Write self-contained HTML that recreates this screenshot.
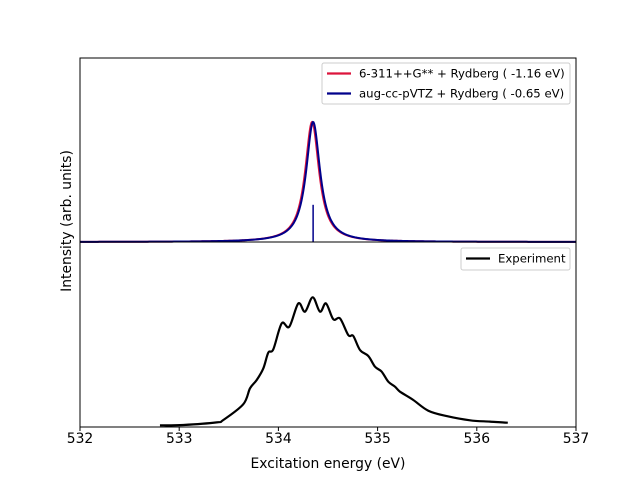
<!DOCTYPE html>
<html><head><meta charset="utf-8"><style>
body{margin:0;background:#fff;}
svg text{font-family:"DejaVu Sans","Liberation Sans",sans-serif;}
</style></head><body>
<svg id="chart" width="640" height="480" viewBox="0 0 640 480" xmlns="http://www.w3.org/2000/svg">
<rect width="640" height="480" fill="#fff"/>
<g id="topPanel"></g>
<g id="botPanel"></g>
<g id="axesGroup"></g>
</svg>
<script>
const xTicks=[532,533,534,535,536,537];
const stickEnergy=[534.35];
const stickIntensity=[0.31];
const redCenter=[534.34];
const blueCenter=[534.35];
const peakHeight=[1.0];
const halfWidth=0.085;
const expEnergy=[532.806,533.041,533.378,533.445,533.646,533.714,533.781,533.848,533.898,533.949,534.033,534.110,534.201,534.268,534.346,534.419,534.480,534.553,534.621,534.705,534.755,534.823,534.906,534.974,535.041,535.108,535.175,535.226,535.360,535.511,535.697,535.931,536.133,536.312];
const expIntensity=[0.009,0.011,0.025,0.038,0.123,0.209,0.254,0.317,0.402,0.420,0.560,0.542,0.668,0.623,0.701,0.623,0.668,0.582,0.587,0.497,0.492,0.416,0.384,0.326,0.299,0.245,0.218,0.191,0.146,0.088,0.059,0.036,0.029,0.023];

const NS="http://www.w3.org/2000/svg";
const AL=80,AR=576,AT=58,AM=242,AB=427;
const xs=e=>AL+(e-532)/5*(AR-AL);
const yTop=v=>AM-v*120;
const yBot=v=>AB-v*185;
function mk(tag,attrs,parent){const el=document.createElementNS(NS,tag);for(const k in attrs)el.setAttribute(k,attrs[k]);parent.appendChild(el);return el;}
const gTop=document.getElementById('topPanel'),gBot=document.getElementById('botPanel'),gAx=document.getElementById('axesGroup');

function lorentz(centers,col,name){
  let d='';
  for(let px=AL;px<=AR;px+=0.5){
    const e=532+(px-AL)/(AR-AL)*5;let v=0;
    centers.forEach((c,i)=>{v+=peakHeight[i]/(1+((e-c)/halfWidth)**2);});
    d+=(px===AL?'M':'L')+px.toFixed(1)+','+yTop(v).toFixed(2);
  }
  const p=mk('path',{d:d,fill:'none',stroke:col,'stroke-width':2},gTop);
  
  
}
lorentz(redCenter,'#dc143c','series-6-311-rydberg');
lorentz(blueCenter,'#00008b','series-aug-cc-pvtz-rydberg');
stickEnergy.forEach((e,i)=>{
  const s=mk('line',{x1:xs(e),x2:xs(e),y1:AM,y2:yTop(stickIntensity[i]),stroke:'#00008b','stroke-width':1.5},gTop);
  
  
});

const pts=expEnergy.map((e,i)=>[xs(e),yBot(expIntensity[i])]);
let d='M'+pts[0][0]+','+pts[0][1];
for(let i=0;i<pts.length-1;i++){
  const p0=pts[Math.max(i-1,0)],p1=pts[i],p2=pts[i+1],p3=pts[Math.min(i+2,pts.length-1)];
  const c1=[p1[0]+(p2[0]-p0[0])/6,p1[1]+(p2[1]-p0[1])/6];
  const c2=[p2[0]-(p3[0]-p1[0])/6,p2[1]-(p3[1]-p1[1])/6];
  d+=`C${c1[0].toFixed(1)},${c1[1].toFixed(1)} ${c2[0].toFixed(1)},${c2[1].toFixed(1)} ${p2[0].toFixed(1)},${p2[1].toFixed(1)}`;
}
const ep=mk('path',{d:d,fill:'none',stroke:'#000','stroke-width':2.2,'stroke-linejoin':'round'},gBot);



const f1=mk('rect',{x:AL,y:AT,width:AR-AL,height:AM-AT,fill:'none',stroke:'#000','stroke-width':1},gAx);


const f2=mk('rect',{x:AL,y:AM,width:AR-AL,height:AB-AM,fill:'none',stroke:'#000','stroke-width':1},gAx);



xTicks.forEach(t=>{
  const x=xs(t);
  const tk=mk('line',{x1:x,x2:x,y1:AB,y2:AB+4,stroke:'#000','stroke-width':1},gAx);
  
  
  const tl=mk('text',{x:x,y:AB+16,'text-anchor':'middle','font-size':13.9,fill:'#000'},gAx);
  tl.textContent=t;
  
  
});
const xl=mk('text',{x:328,y:468,'text-anchor':'middle','font-size':13.9},gAx);
xl.textContent='Excitation energy (eV)';


const yl=mk('text',{x:0,y:0,'text-anchor':'middle','font-size':13.9,transform:'translate(71,221) rotate(-90)'},gAx);
yl.textContent='Intensity (arb. units)';



function legend(x,y,w,h,items,name){
  const g=mk('g',{},gAx);
  
  
  mk('rect',{x:x,y:y,width:w,height:h,rx:2,fill:'#fff','fill-opacity':0.8,stroke:'#ccc'},g);
  items.forEach((it,i)=>{
    const yy=y+10.5+i*20;
    const ln=mk('line',{x1:x+5,x2:x+29,y1:yy,y2:yy,stroke:it[1],'stroke-width':2.2},g);
    
    
    const tx=mk('text',{x:x+37,y:yy+4,'font-size':11.7},g);
    tx.textContent=it[0];
    
    
  });
}
legend(322,63,248,41,[['6-311++G** + Rydberg ( -1.16 eV)','#dc143c'],['aug-cc-pVTZ + Rydberg ( -0.65 eV)','#00008b']],'legend-theory');
legend(461,248,109,22,[['Experiment','#000']],'legend-experiment');
</script>
</body></html>
